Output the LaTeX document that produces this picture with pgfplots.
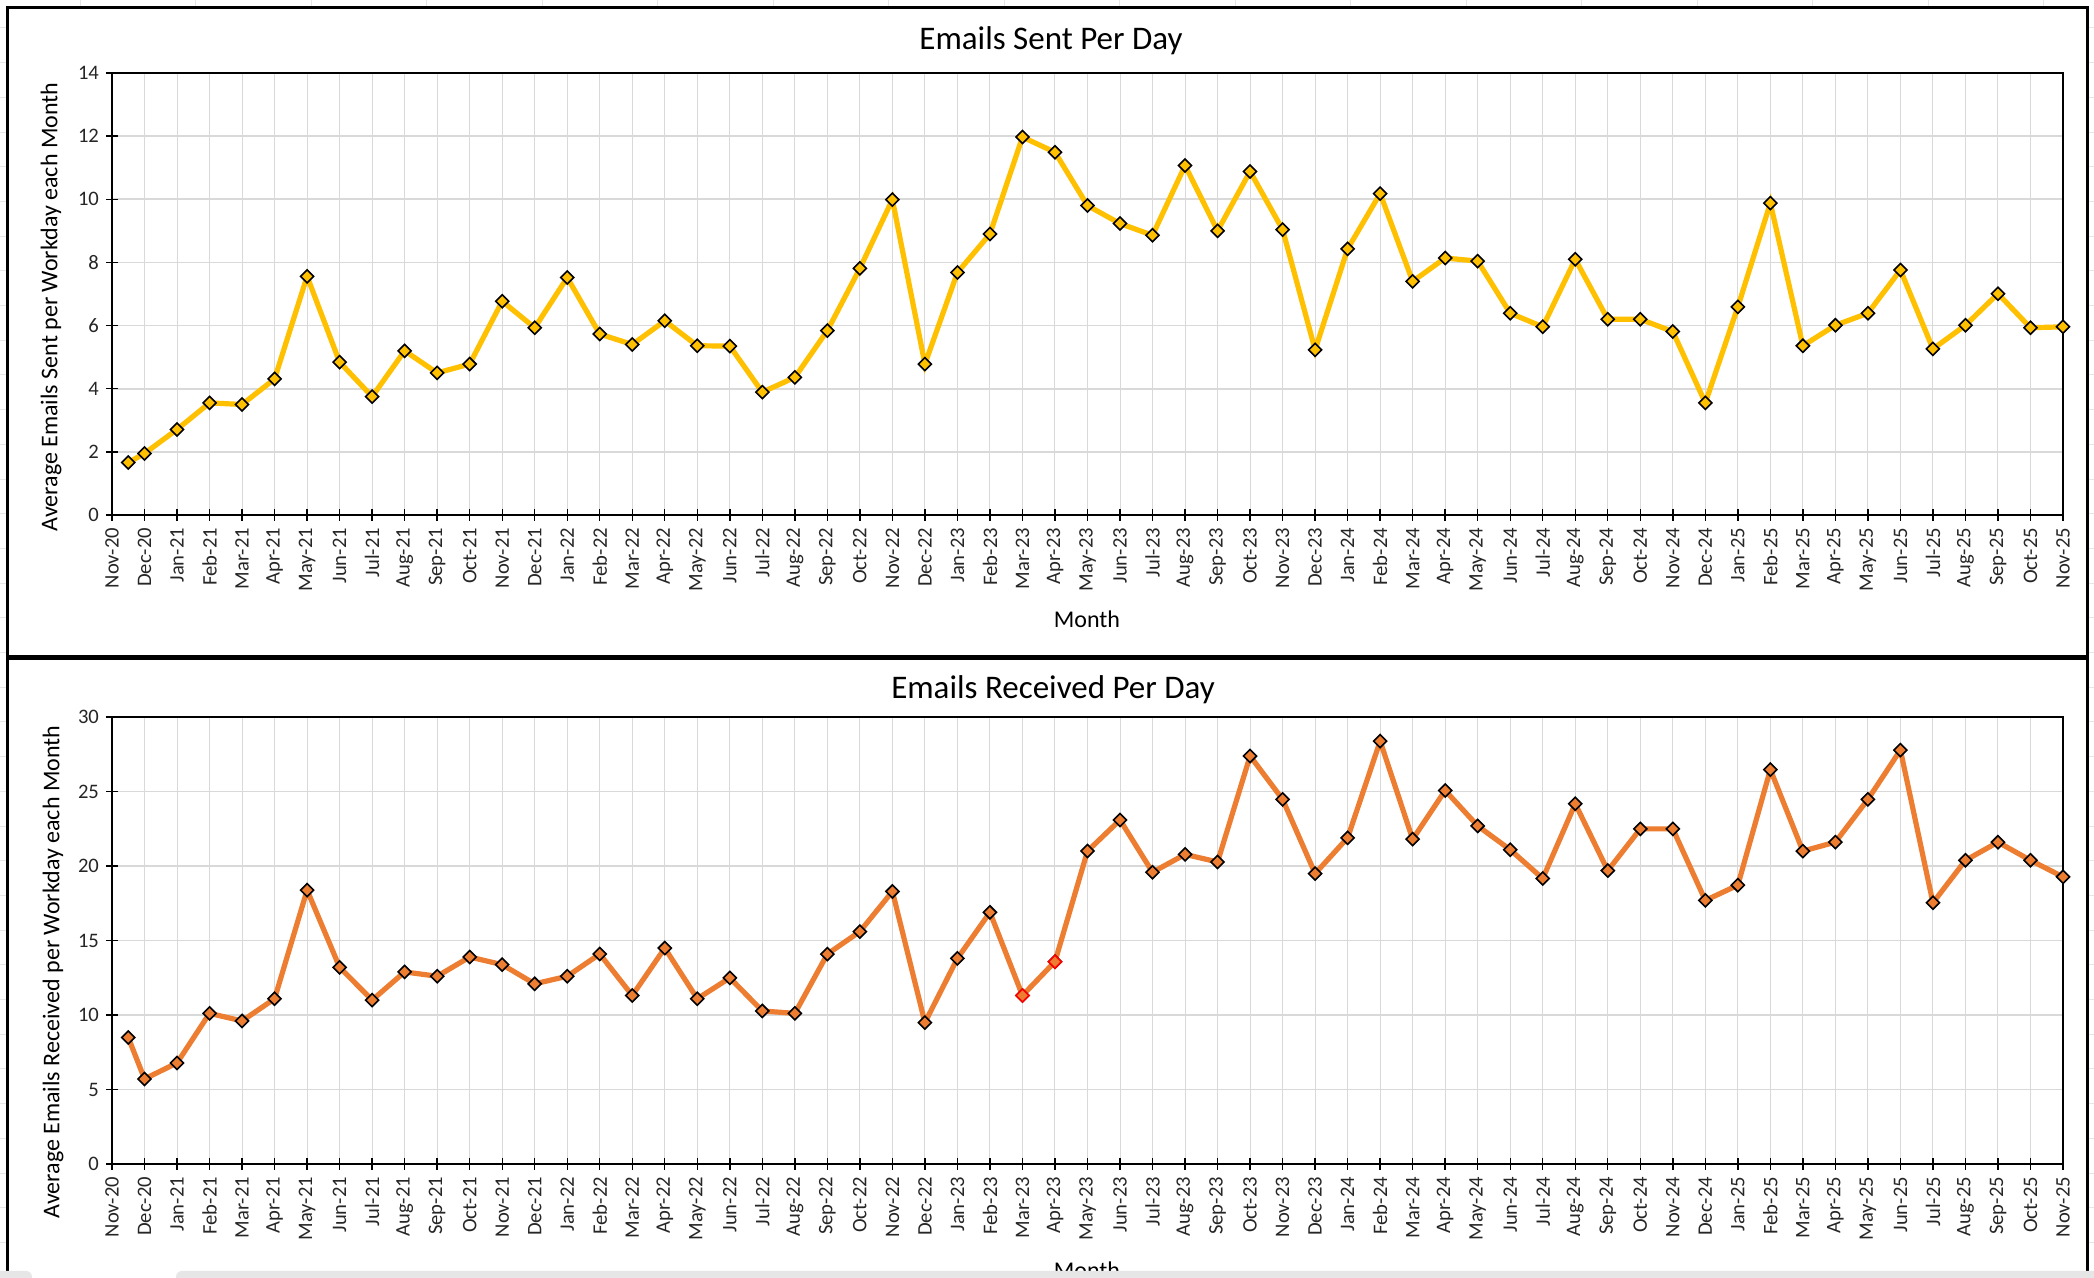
\documentclass[border=0pt]{standalone}
\usepackage{fontspec}
\setmainfont{Carlito}
\usepackage{pgfplots}
\pgfplotsset{compat=1.18}
\usepackage{pgfplotstable}

\definecolor{gold}{HTML}{FFC000}
\definecolor{orng}{HTML}{ED7D31}
\definecolor{gridc}{HTML}{D9D9D9}
\definecolor{sheet}{HTML}{E6E6E6}

\pgfplotstableread{
x y
0.5 1.66
1 1.95
2 2.71
3 3.55
4 3.50
5 4.31
6 7.56
7 4.84
8 3.75
9 5.20
10 4.50
11 4.78
12 6.77
13 5.93
14 7.52
15 5.73
16 5.40
17 6.15
18 5.36
19 5.35
20 3.89
21 4.36
22 5.84
23 7.81
24 9.99
25 4.78
26 7.68
27 8.90
28 11.97
29 11.49
30 9.80
31 9.23
32 8.86
33 11.07
34 9.00
35 10.88
36 9.04
37 5.23
38 8.43
39 10.18
40 7.40
41 8.14
42 8.04
43 6.39
44 5.96
45 8.10
46 6.20
47 6.20
48 5.81
49 3.55
50 6.59
51 9.88
52 5.36
53 6.01
54 6.39
55 7.76
56 5.26
57 6.01
58 7.01
59 5.93
60 5.96
}\sent

\pgfplotstableread{
x y
0.5 8.49
1 5.71
2 6.78
3 10.11
4 9.60
5 11.09
6 18.38
7 13.20
8 11.00
9 12.89
10 12.60
11 13.89
12 13.38
13 12.09
14 12.60
15 14.09
16 11.31
17 14.49
18 11.09
19 12.49
20 10.27
21 10.11
22 14.09
23 15.60
24 18.29
25 9.49
26 13.80
27 16.89
28 11.31
29 13.58
30 21.00
31 23.09
32 19.58
33 20.78
34 20.27
35 27.38
36 24.47
37 19.49
38 21.89
39 28.38
40 21.80
41 25.07
42 22.69
43 21.09
44 19.16
45 24.18
46 19.69
47 22.49
48 22.49
49 17.69
50 18.71
51 26.47
52 21.00
53 21.60
54 24.47
55 27.78
56 17.53
57 20.38
58 21.60
59 20.38
60 19.27
}\received

\pgfplotstableread{
x y
28 11.31
29 13.58
}\flagged

\pgfplotsset{
  panel/.style={
    scale only axis,
    width=975.5pt,
    anchor=south west,
    xmin=0, xmax=60,
    ymin=0,
    xtick={0,...,60},
    xticklabels={Nov-20,Dec-20,Jan-21,Feb-21,Mar-21,Apr-21,May-21,Jun-21,Jul-21,Aug-21,Sep-21,Oct-21,Nov-21,Dec-21,Jan-22,Feb-22,Mar-22,Apr-22,May-22,Jun-22,Jul-22,Aug-22,Sep-22,Oct-22,Nov-22,Dec-22,Jan-23,Feb-23,Mar-23,Apr-23,May-23,Jun-23,Jul-23,Aug-23,Sep-23,Oct-23,Nov-23,Dec-23,Jan-24,Feb-24,Mar-24,Apr-24,May-24,Jun-24,Jul-24,Aug-24,Sep-24,Oct-24,Nov-24,Dec-24,Jan-25,Feb-25,Mar-25,Apr-25,May-25,Jun-25,Jul-25,Aug-25,Sep-25,Oct-25,Nov-25},
    /pgf/number format/assume math mode=true,
    x tick label style={rotate=90, anchor=east, font=\fontsize{10.3}{12}\selectfont, text=black!85},
    y tick label style={font=\fontsize{10.3}{12}\selectfont, text=black!85},
    xtick pos=lower, ytick pos=left,
    tick align=center,
    major tick length=6pt,
    tick style={black, line width=0.7pt},
    grid=major,
    x grid style={gridc, line width=0.5pt},
    y grid style={gridc, line width=0.9pt},
    axis line style={black, line width=0.8pt},
  },
}

\begin{document}
\begin{tikzpicture}
\useasboundingbox (0,0) rectangle (1047pt,639pt);
\clip (0,0) rectangle (1047pt,639pt);
\fill[white] (0,0) rectangle (1047pt,639pt);
% faint spreadsheet cells behind the charts
\foreach \i in {0,...,37} {
  \draw[sheet, line width=0.5pt] (0,{639pt-(14pt+17.35pt*\i)}) -- (1047pt,{639pt-(14pt+17.35pt*\i)});
}
\foreach \i in {0,...,18} {
  \draw[sheet, line width=0.5pt] ({40pt+57.75pt*\i},0) -- ({40pt+57.75pt*\i},639pt);
}
% chart panels
\draw[line width=1.5pt, black, fill=white] (3.5pt,310.5pt) rectangle (1043.5pt,635pt);
\draw[line width=1.5pt, black, fill=white] (3.5pt,-10pt) rectangle (1043.5pt,309.5pt);

\begin{axis}[panel, at={(56pt,381.5pt)}, height=221pt, ymax=14, ytick={0,2,...,14}]
\addplot[gold, line width=2.6pt, mark=square*, mark size=2.3pt,
  mark options={rotate=45, fill=gold, draw=black, line width=0.8pt}] table {\sent};
\end{axis}

\begin{axis}[panel, at={(56pt,57pt)}, height=223.5pt, ymax=30, ytick={0,5,...,30}]
\addplot[orng, line width=2.6pt, mark=square*, mark size=2.3pt,
  mark options={rotate=45, fill=orng, draw=black, line width=0.8pt}] table {\received};
\addplot[only marks, mark=square*, mark size=2.3pt,
  mark options={rotate=45, fill=orng, draw=red, line width=0.8pt}] table {\flagged};
\end{axis}

% titles and axis labels
\node[font=\fontsize{16.5}{19}\selectfont] at (525.5pt,618.5pt) {Emails Sent Per Day};
\node[font=\fontsize{16.5}{19}\selectfont] at (526.5pt,294pt) {Emails Received Per Day};
\node[font=\fontsize{12}{14}\selectfont] at (543.5pt,329.5pt) {Month};
\node[font=\fontsize{12}{14}\selectfont] at (543.5pt,4pt) {Month};
\node[font=\fontsize{12}{14}\selectfont, rotate=90] at (25.5pt,485.5pt) {Average Emails Sent per Workday each Month};
\node[font=\fontsize{12}{14}\selectfont, rotate=90] at (26.5pt,153pt) {Average Emails Received per Workday each Month};
% bottom scroll bar strip
\fill[sheet, rounded corners=3pt] (88pt,-5pt) rectangle (1052pt,3.5pt);
\fill[sheet, rounded corners=3pt] (-5pt,-5pt) rectangle (16pt,3.5pt);
\end{tikzpicture}
\end{document}
